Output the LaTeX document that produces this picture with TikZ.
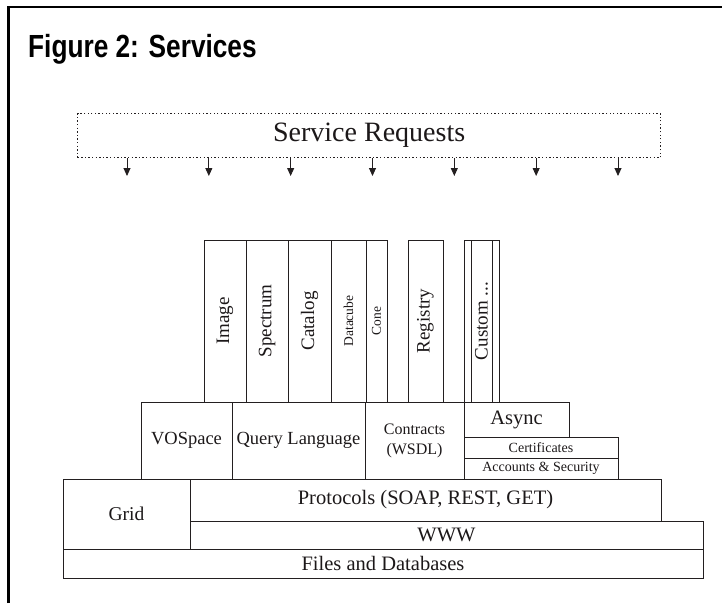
\documentclass[tikz,border=0pt]{standalone}
\usepackage{graphicx}
\usepackage{fontspec}
\setmainfont{Liberation Serif}
\newfontfamily\titlefont[FakeStretch=0.82]{Liberation Sans}
\usepackage{tikz}
\usetikzlibrary{arrows.meta,positioning}
\definecolor{stackline}{RGB}{35,31,32}
\definecolor{stacktext}{RGB}{28,24,25}

\begin{document}
\begin{tikzpicture}[
    x=1pt, y=-1pt,
    layer/.style={rectangle, draw=stackline, line width=1pt, inner sep=0pt, outer sep=0pt, text=stacktext, align=center, font=\fontsize{20.5}{22}\selectfont},
    service/.style={layer, minimum height=162pt, font=\fontsize{19}{21}\selectfont},
    narrowsvc/.style={service, font=\fontsize{13.5}{15}\selectfont},
    mid/.style={layer, minimum height=77pt, font=\fontsize{18.5}{20}\selectfont},
    small/.style={layer, minimum width=154pt, minimum height=21pt, font=\fontsize{14}{16}\selectfont},
    request/.style={rectangle, draw=stackline, line width=1.3pt, dash pattern=on 1.3pt off 2.3pt, inner sep=0pt, minimum width=583pt, minimum height=44pt, text=stacktext, font=\fontsize{28}{30}\selectfont},
    arrow/.style={-{Triangle[width=7pt,length=8pt]}, line width=0.9pt, draw=stackline}
]
    \useasboundingbox (0,0) rectangle (722,603);

    % Page frame and heading
    \draw[line width=2.6pt, black] (8.5,603) -- (8.5,7) -- (722,7);
    \node[anchor=base west, inner sep=0pt, font={\titlefont\bfseries\fontsize{32}{34}\selectfont}] (title) at (28,57) {Figure 2: Services};

    % Requests coming in from the top
    \node[request, anchor=north west] (requests) at (77,113) {Service Requests};
    \foreach \i in {0,...,6} {
        \coordinate (tip\i) at (127+81.83*\i, 176);
        \draw[arrow] (requests.south -| tip\i) -- (tip\i);
    }

    % Service columns
    \node[service, minimum width=42pt, anchor=north west] (image) at (204,240) {\rotatebox{90}{Image}};
    \node[service, minimum width=42pt, right=0pt of image] (spectrum) {\rotatebox{90}{Spectrum}};
    \node[service, minimum width=43pt, right=0pt of spectrum] (catalog) {\rotatebox{90}{Catalog}};
    \node[narrowsvc, minimum width=35pt, right=0pt of catalog] (datacube) {\rotatebox{90}{Datacube}};
    \node[narrowsvc, minimum width=21pt, right=0pt of datacube] (cone) {\rotatebox{90}{Cone}};
    \node[service, minimum width=35pt, anchor=north west] (registry) at (408,240) {\rotatebox{90}{Registry}};
    \node[service, minimum width=35pt, anchor=north west] (custom) at (464,240) {};
    \node[service, minimum width=21pt] (customin) at (custom.center) {\rotatebox{90}{Custom ...}};

    % Middle layer
    \node[mid, minimum width=91pt, anchor=north west] (vospace) at (141,402) {VOSpace};
    \node[mid, minimum width=133pt, right=0pt of vospace] (querylang) {Query Language};
    \node[mid, minimum width=99pt, right=0pt of querylang, font=\fontsize{16}{20}\selectfont] (contracts) {Contracts\\(WSDL)};
    \node[layer, minimum width=105pt, minimum height=35pt, below right=0pt and 0pt of contracts.north east] (async) {Async};
    \node[small, below right=0pt and 0pt of async.south west] (certs) {Certificates};
    \node[small, below=0pt of certs] (accounts) {Accounts \& Security};

    % Transport and storage
    \node[layer, minimum width=471pt, minimum height=42pt, anchor=north west] (protocols) at (190,479) {Protocols (SOAP, REST, GET)};
    \node[layer, minimum width=513pt, minimum height=28pt, below right=0pt and 0pt of protocols.south west] (www) {WWW};
    \node[layer, minimum width=127pt, minimum height=70pt, below left=0pt and 0pt of protocols.north west, font=\fontsize{19.5}{21}\selectfont] (grid) {Grid};
    \node[layer, minimum width=640pt, minimum height=29pt, below right=0pt and 0pt of grid.south west] (files) {Files and Databases};
\end{tikzpicture}
\end{document}
